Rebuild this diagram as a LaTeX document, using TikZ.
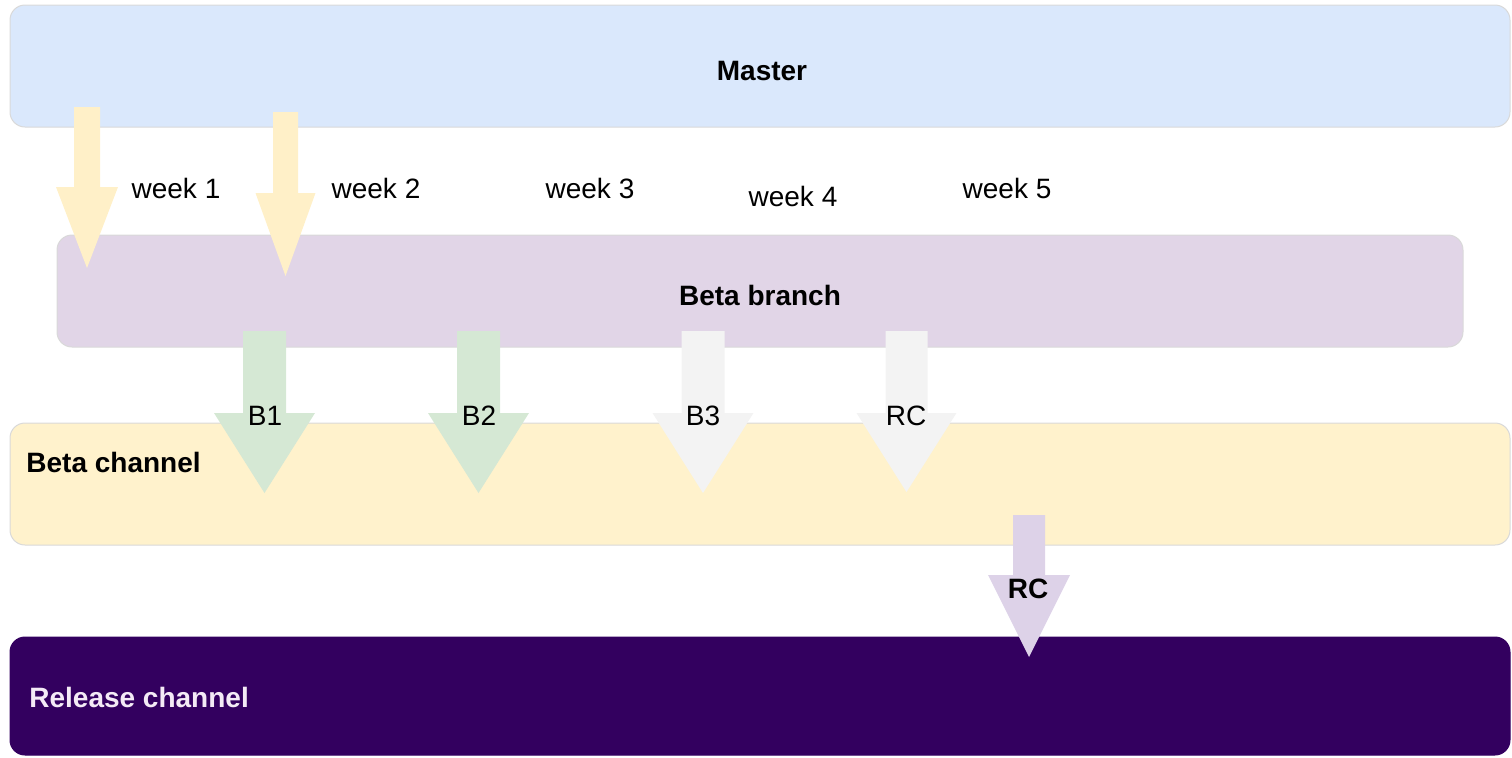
\documentclass[tikz,border=0pt]{standalone}
\usepackage{fontspec}
\setmainfont{Liberation Sans}
\usetikzlibrary{positioning,calc}
\definecolor{MasterFill}{HTML}{DAE8FC}
\definecolor{BranchFill}{HTML}{E1D5E7}
\definecolor{BetaFill}{HTML}{FFF2CC}
\definecolor{ReleaseFill}{HTML}{33005F}
\definecolor{ReleaseText}{HTML}{F4EAF6}
\definecolor{WeekArr}{HTML}{FFF0C8}
\definecolor{BuildArr}{HTML}{D5E8D4}
\definecolor{PendArr}{HTML}{F3F3F3}
\definecolor{CandArr}{HTML}{DDD2E8}
\tikzset{
  lane/.style={draw=black!15,line width=0.5pt,rounded corners=7.5pt,inner sep=0pt},
  lbl/.style={inner sep=1pt,font=\fontsize{14}{16}\selectfont},
  lblB/.style={lbl,font=\fontsize{14}{16}\selectfont\bfseries},
}
% block arrow: fill, centre x, top, neck, tip, half shaft, half head
\newcommand{\blockarrow}[7]{%
  \fill[#1] (#2-#6,#3) -- (#2+#6,#3) -- (#2+#6,#4) -- (#2+#7,#4)
    -- (#2,#5) -- (#2-#7,#4) -- (#2-#6,#4) -- cycle;}

\begin{document}
\begin{tikzpicture}[x=0.5pt,y=-0.5pt]
  \useasboundingbox (0,0) rectangle (1512,757);
  % --- lanes ---
  \node[lane, fill=MasterFill, minimum width=750pt, minimum height=61pt] (master) at (760,66) {};
  \node[lane, fill=BranchFill, minimum width=703pt, minimum height=56pt] (branch) at (760,291) {};
  \node[lane, fill=BetaFill, minimum width=750pt, minimum height=61pt] (beta) at (760,484) {};
  \node[lane, fill=ReleaseFill, draw=ReleaseFill, minimum width=750pt, minimum height=59pt] (release) at (760,696) {};

  \node[lblB] (masterlbl) at (762,71) {Master};
  \node[lblB] (branchlbl) at (760,295) {Beta branch};
  \node[lblB, anchor=west] (betalbl) at (24,462) {Beta channel};
  \node[lblB, anchor=west, text=ReleaseText] (releaselbl) at (27,697) {Release channel};

  % --- weekly merges master -> beta branch ---
  \blockarrow{WeekArr}{87}{107}{187}{268}{13}{31}
  \blockarrow{WeekArr}{285.5}{112}{193}{276}{12.5}{30}

  \node[lbl] (wk1) at (176,188) {week 1};
  \node[lbl] (wk2) at (376,188) {week 2};
  \node[lbl] (wk3) at (590,188) {week 3};
  \node[lbl] (wk4) at (793,196) {week 4};
  \node[lbl] (wk5) at (1007,188) {week 5};

  % --- builds beta branch -> beta channel ---
  \blockarrow{BuildArr}{264.5}{331}{413}{493}{21.5}{50.5}
  \blockarrow{BuildArr}{478.5}{331}{413}{493}{21.5}{50.5}
  \blockarrow{PendArr}{703}{331}{413}{493}{21.5}{50.5}
  \blockarrow{PendArr}{906.5}{331}{413}{492}{21}{50}

  \node[lbl] (b1) at (265,416) {B1};
  \node[lbl] (b2) at (479,416) {B2};
  \node[lbl] (b3) at (703,416) {B3};
  \node[lbl] (rc) at (906,416) {RC};

  % promotion beta channel -> release channel
  \blockarrow{CandArr}{1029}{515}{575}{657}{16}{41}
  \node[lblB] (rcrel) at (1028,589) {RC};
\end{tikzpicture}
\end{document}
